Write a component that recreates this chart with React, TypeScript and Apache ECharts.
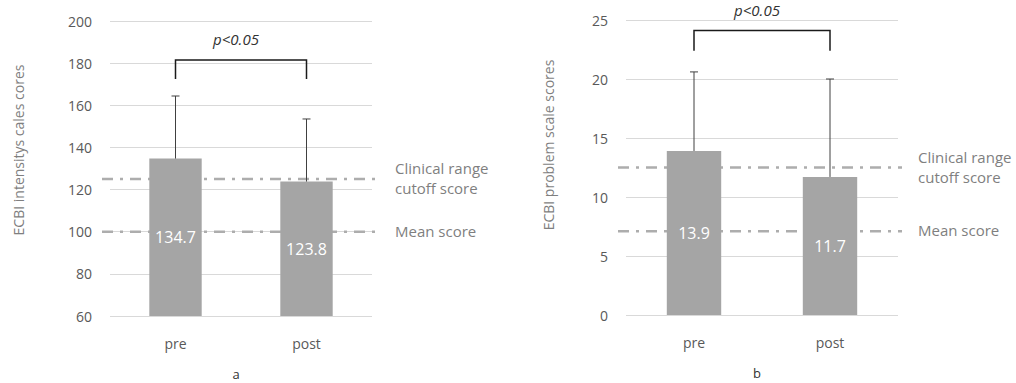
import React, { useEffect, useRef } from "react";
import * as echarts from "echarts";

const categories = ["pre", "post"];
const intensityMeans = [134.7, 123.8];
const intensitySD = [29.7, 29.7];
const problemMeans = [13.9, 11.7];
const problemSD = [6.7, 8.3];
const intensityRefs = [125, 100];
const problemRefs = [12.5, 7.1];
const refLabels = ["Clinical range\ncutoff score", "Mean score"];
const intensityBracket = [181.5, 172.5];
const problemBracket = [24.1, 22.4];
const pLabel = "p<0.05";
const panelLabels = ["a", "b"];
const yNames = ["ECBI intensitys cales cores", "ECBI problem scale scores"];

const FONT = "'Open Sans', sans-serif";
const TXT = "#595959";

function errorSeries(idx: number, means: number[], sds: number[]) {
  return {
    type: "custom",
    xAxisIndex: idx,
    yAxisIndex: idx,
    z: 5,
    data: means.map((m, i) => [i, m, m + sds[i]]),
    renderItem: (params: any, api: any) => {
      const b = api.coord([api.value(0), api.value(1)]);
      const t = api.coord([api.value(0), api.value(2)]);
      const st = { stroke: "#404040", lineWidth: 1 };
      return {
        type: "group",
        children: [
          { type: "line", shape: { x1: b[0], y1: b[1], x2: t[0], y2: t[1] }, style: st },
          { type: "line", shape: { x1: t[0] - 4, y1: t[1], x2: t[0] + 4, y2: t[1] }, style: st },
        ],
      };
    },
  };
}

function refSeries(idx: number, refs: number[], labelGap: number) {
  return {
    type: "custom",
    xAxisIndex: idx,
    yAxisIndex: idx,
    z: 0,
    clip: false,
    data: refs.map((v, i) => [0, v, i]),
    renderItem: (params: any, api: any) => {
      const cs = params.coordSys;
      const y = api.coord([0, api.value(1)])[1];
      return {
        type: "group",
        children: [
          {
            type: "line",
            shape: { x1: cs.x - 8, y1: y, x2: cs.x + cs.width + 4, y2: y },
            style: { stroke: "#adadad", lineWidth: 2.5, lineDash: [11, 7, 3, 7] },
          },
          {
            type: "text",
            x: cs.x + cs.width + labelGap,
            y: y - 1,
            style: {
              text: refLabels[params.dataIndex],
              fill: "#7f7f7f",
              font: `15px ${FONT}`,
              verticalAlign: "middle",
              lineHeight: 20,
            },
          },
        ],
      };
    },
  };
}

function bracketSeries(idx: number, br: number[]) {
  return {
    type: "custom",
    xAxisIndex: idx,
    yAxisIndex: idx,
    z: 6,
    clip: false,
    data: [[0, 1, br[0], br[1]]],
    renderItem: (params: any, api: any) => {
      const a0 = api.coord([api.value(0), api.value(3)]);
      const a1 = api.coord([api.value(0), api.value(2)]);
      const b1 = api.coord([api.value(1), api.value(2)]);
      const b0 = api.coord([api.value(1), api.value(3)]);
      return {
        type: "group",
        children: [
          {
            type: "polyline",
            shape: { points: [a0, a1, b1, b0] },
            style: { stroke: "#1a1a1a", lineWidth: 1.5, fill: "none" },
          },
          {
            type: "text",
            x: (a1[0] + b1[0]) / 2 - 5,
            y: a1[1] - 21,
            style: {
              text: pLabel,
              fill: "#333",
              font: `italic 15px ${FONT}`,
              align: "center",
              verticalAlign: "middle",
            },
          },
        ],
      };
    },
  };
}

export default function App() {
  const ref = useRef<HTMLDivElement>(null);
  useEffect(() => {
    document.body.style.margin = "0";
    const chart = echarts.init(ref.current!, null, { renderer: "svg" });
    const yAxisBase = {
      type: "value",
      axisLine: { show: false },
      axisTick: { show: false },
      axisLabel: { color: TXT, fontSize: 14, fontFamily: FONT, margin: 18 },
      splitLine: { lineStyle: { color: "#d9d9d9", width: 1 } },
    };
    const xAxisBase = {
      type: "category",
      data: categories,
      axisLine: { show: false },
      axisTick: { show: false },
      axisLabel: { color: TXT, fontSize: 14, fontFamily: FONT, margin: 20 },
    };
    const barSeries = (idx: number, vals: number[]) => ({
      type: "bar",
      xAxisIndex: idx,
      yAxisIndex: idx,
      z: 2,
      barWidth: "40%",
      data: vals,
      itemStyle: { color: "#a5a5a5" },
      label: {
        show: true,
        position: "inside",
        color: "#fff",
        fontSize: 16,
        fontFamily: FONT,
      },
    });
    const nameText = (i: number, x: number, y: number) => ({
      type: "text",
      x,
      y,
      rotation: Math.PI / 2,
      style: {
        text: yNames[i],
        fill: "#7f7f7f",
        font: `14px ${FONT}`,
        align: "center",
        verticalAlign: "middle",
      },
    });
    chart.setOption({
      animation: false,
      backgroundColor: "#fff",
      grid: [
        { left: 110, top: 21, width: 262, height: 295 },
        { left: 626, top: 20, width: 272, height: 295 },
      ],
      xAxis: [
        { ...xAxisBase, gridIndex: 0 },
        { ...xAxisBase, gridIndex: 1 },
      ],
      yAxis: [
        { ...yAxisBase, gridIndex: 0, min: 60, max: 200, interval: 20 },
        { ...yAxisBase, gridIndex: 1, min: 0, max: 25, interval: 5 },
      ],
      graphic: [
        nameText(0, 18, 150),
        nameText(1, 548, 145),
        { type: "text", x: 236, y: 374, style: { text: panelLabels[0], fill: "#333", font: `13px ${FONT}`, align: "center", verticalAlign: "middle" } },
        { type: "text", x: 757, y: 373, style: { text: panelLabels[1], fill: "#333", font: `13px ${FONT}`, align: "center", verticalAlign: "middle" } },
      ],
      series: [
        refSeries(0, intensityRefs, 23),
        barSeries(0, intensityMeans),
        errorSeries(0, intensityMeans, intensitySD),
        bracketSeries(0, intensityBracket),
        refSeries(1, problemRefs, 20),
        barSeries(1, problemMeans),
        errorSeries(1, problemMeans, problemSD),
        bracketSeries(1, problemBracket),
      ],
    });
    return () => chart.dispose();
  }, []);
  return <div ref={ref} style={{ width: 1016, height: 383 }} />;
}
